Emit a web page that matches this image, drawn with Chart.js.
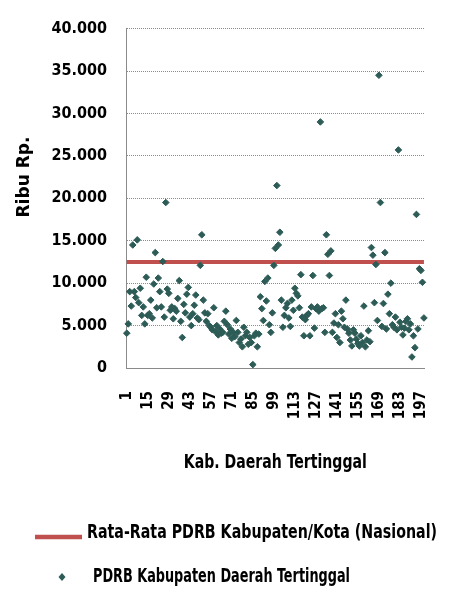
<!DOCTYPE html>
<html>
<head>
<meta charset="utf-8">
<script src="https://cdn.jsdelivr.net/npm/chart.js@4/dist/chart.umd.min.js"></script>
<style>
html,body{margin:0;padding:0;background:#ffffff;}
#wrap{width:462px;height:595px;position:relative;}
</style>
</head>
<body>
<div id="wrap"><canvas id="c" width="462" height="595"></canvas></div>
<script>
// ---------- data ----------
const categoryCount = 199;
const categories = Array.from({length: categoryCount}, (_, i) => String(i + 1));
const tickLabels = ['1','15','29','43','57','71','85','99','113','127','141','155','169','183','197'];
const yTickValues = [0, 5000, 10000, 15000, 20000, 25000, 30000, 35000, 40000];
const nationalAverage = 12500;
const pdrbValues = [
  4100, 5200, 9000, 7300, 14500, 9000, 8300, 15100, 7700, 9400,
  6200, 7200, 5200, 10700, 6200, 6400, 8000, 5900, 9900, 13600,
  7100, 10600, 9000, 7200, 12550, 6000, 19500, 9300, 8800, 6800,
  7200, 5800, 7000, 6700, 8200, 10300, 5500, 3600, 7500, 6500,
  8700, 9500, 6000, 5000, 6400, 7400, 8600, 5900, 5700, 12100,
  15700, 8000, 6500, 5500, 6400, 5000, 4800, 4500, 7100, 4300,
  5000, 3900, 4600, 4100, 4200, 5500, 6700, 5100, 4000, 4600,
  3500, 4200, 3700, 5600, 4200, 3000, 3400, 2500, 4800, 3800,
  4200, 2800, 3600, 3000, 400, 3800, 4100, 2500, 4000, 8400,
  7000, 5600, 10200, 7900, 10600, 5100, 4200, 6500, 12100, 14100,
  21500, 14500, 16000, 8000, 4800, 6200, 7100, 7600, 5900, 4900,
  8000, 6800, 9400, 8800, 8500, 7100, 11000, 6000, 3800, 5700,
  6200, 6400, 3800, 7200, 10900, 4700, 7000, 7200, 6700, 29000,
  7000, 7100, 4200, 15700, 13400, 10900, 13800, 4200, 5300, 6400,
  3600, 5100, 3000, 6700, 5800, 4800, 8000, 4600, 4100, 3300,
  2600, 4500, 4100, 3400, 2900, 2600, 3800, 3000, 7300, 2500,
  3300, 4400, 3100, 14200, 13300, 7700, 12200, 5600, 34500, 19500,
  4900, 7600, 13600, 4600, 8700, 6400, 10000, 5100, 4800, 6000,
  4500, 25700, 5400, 4800, 3900, 4700, 5500, 5800, 4500, 5200,
  1300, 3800, 2400, 18100, 4600, 11700, 11500, 10100, 5900
];
const seriesNames = ['Rata-Rata PDRB Kabupaten/Kota (Nasional)', 'PDRB Kabupaten Daerah Tertinggal'];
const xTitle = 'Kab. Daerah Tertinggal';
const yTitle = 'Ribu Rp.';

// ---------- styles ----------
const RED = '#C0504D';
const MARK = '#2D5C57';
const FAMILY = "'DejaVu Sans Condensed','Liberation Sans Narrow','DejaVu Sans',sans-serif";

function fmt(v){ return String(v).replace(/\B(?=(\d{3})+(?!\d))/g, '.'); }

function fittedText(ctx, text, x, y, width, size, align, rot){
  ctx.save();
  ctx.font = 'bold ' + size + 'px ' + FAMILY;
  ctx.fillStyle = '#000';
  ctx.textBaseline = 'middle';
  ctx.textAlign = 'left';
  const w = ctx.measureText(text).width;
  const sx = width / w;
  ctx.translate(x, y);
  if (rot) ctx.rotate(rot);
  ctx.scale(sx, 1);
  let start = 0;
  if (align === 'center') start = -w / 2;
  ctx.fillText(text, start, 0);
  ctx.restore();
}

const textPlugin = {
  id: 'customText',
  afterDraw(chart){
    const ctx = chart.ctx;
    const area = chart.chartArea;
    // axis titles
    fittedText(ctx, xTitle, (area.left + area.right) / 2, 463, 183, 19, 'center', 0);
    fittedText(ctx, yTitle, 25, 177, 81, 17, 'center', -Math.PI / 2);
    // legend
    const ds0 = chart.data.datasets[0];
    const ds1 = chart.data.datasets[1];
    ctx.save();
    ctx.strokeStyle = ds0.borderColor;
    ctx.lineWidth = 4.5;
    ctx.beginPath(); ctx.moveTo(35, 537); ctx.lineTo(82, 537); ctx.stroke();
    ctx.fillStyle = ds1.backgroundColor;
    ctx.beginPath();
    ctx.moveTo(62, 573); ctx.lineTo(65.5, 577); ctx.lineTo(62, 581); ctx.lineTo(58.5, 577); ctx.closePath();
    ctx.fill();
    ctx.restore();
    fittedText(ctx, ds0.label, 87, 533, 350, 19, 'left', 0);
    fittedText(ctx, ds1.label, 93, 577, 257, 19, 'left', 0);
  }
};

new Chart(document.getElementById('c'), {
  type: 'line',
  data: {
    labels: categories,
    datasets: [
      {
        label: seriesNames[0],
        data: categories.map(() => nationalAverage),
        borderColor: RED,
        backgroundColor: RED,
        borderWidth: 4,
        pointRadius: 0,
        fill: false,
        order: 2
      },
      {
        label: seriesNames[1],
        data: pdrbValues,
        showLine: false,
        pointStyle: 'rectRot',
        pointRadius: 3.3,
        borderWidth: 1,
        borderColor: MARK,
        backgroundColor: MARK,
        order: 1
      }
    ]
  },
  options: {
    responsive: false,
    animation: false,
    devicePixelRatio: 1,
    layout: { padding: { top: 24, right: 6, left: 0, bottom: 177 } },
    plugins: { legend: { display: false }, tooltip: { enabled: false } },
    scales: {
      x: {
        type: 'category',
        offset: true,
        grid: { display: false, drawTicks: false },
        border: { display: true, color: '#8a8a8a', width: 1 },
        ticks: {
          autoSkip: false,
          maxRotation: 90,
          minRotation: 90,
          padding: 23,
          color: '#000',
          font: { family: FAMILY, size: 15, weight: 'bold' },
          callback: function(value, index){
            const lab = this.getLabelForValue(value);
            return tickLabels.includes(lab) ? lab : null;
          }
        },
        afterFit(scale){ scale.height = 50; }
      },
      y: {
        min: yTickValues[0],
        max: yTickValues[yTickValues.length - 1],
        grid: { color: '#8c8c8c', lineWidth: 1, drawTicks: false },
        border: { display: true, color: '#8a8a8a', width: 1, dash: [1, 1] },
        ticks: {
          stepSize: 5000,
          padding: 19,
          color: '#000',
          font: { family: FAMILY, size: 16, weight: 'bold' },
          callback: (v) => fmt(v)
        },
        afterBuildTicks(scale){ scale.ticks = yTickValues.map(v => ({value: v})); },
        afterFit(scale){ scale.width = 126; }
      }
    }
  },
  plugins: [textPlugin]
});
</script>
</body>
</html>
